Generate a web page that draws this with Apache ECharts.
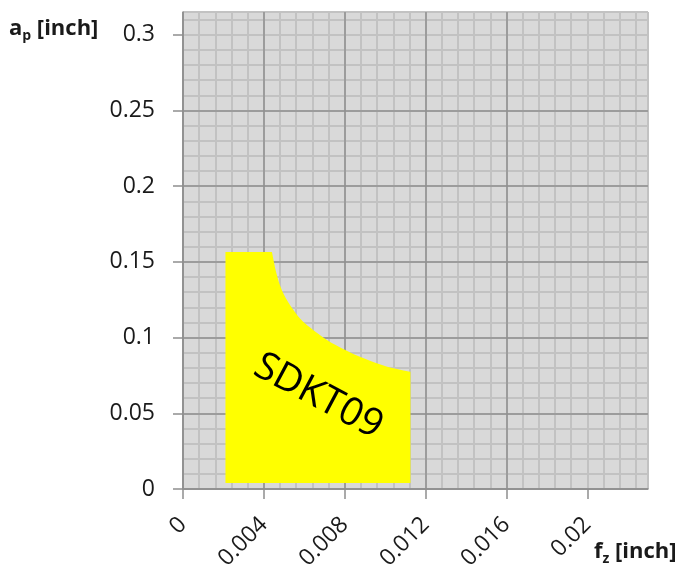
<!DOCTYPE html>
<html>
<head>
<meta charset="utf-8">
<script src="https://cdn.jsdelivr.net/npm/echarts@6/dist/echarts.min.js"></script>
<style>
html,body{margin:0;padding:0;background:#fff;}
#chart{width:684px;height:569px;}
</style>
</head>
<body>
<div id="chart"></div>
<script>
// ---- data ----
const xTicks = [0, 0.004, 0.008, 0.012, 0.016, 0.02];
const yTicks = [0, 0.05, 0.1, 0.15, 0.2, 0.25, 0.3];
const xMax = 0.023;
const yMax = 0.315;
// outline of the SDKT09 application area (fz, ap); points 2..12 form the curved edge
const areaFz = [0.0021, 0.0021, 0.0044, 0.00462, 0.0049, 0.0053, 0.0058, 0.0063, 0.00712, 0.008, 0.00894, 0.0101, 0.01125, 0.01125];
const areaAp = [0.004, 0.1565, 0.1565, 0.1425, 0.131, 0.1214, 0.1125, 0.1065, 0.0984, 0.092, 0.0863, 0.0808, 0.0775, 0.004];
const curveStart = 2, curveEnd = 12;
const areaName = 'SDKT09';
const labelPos = [0.00669, 0.0611];

const FONT = '"Open Sans", "Noto Sans", sans-serif';
const chart = echarts.init(document.getElementById('chart'));

const majorLine = {show: true, showMaxLine: false, lineStyle: {color: '#8f8f8f', width: 1.5}};
const minorLine = {show: true, lineStyle: {color: '#c2c2c2', width: 2}};

function fmt(v) { return String(+v.toFixed(4)); }

function buildPath(pts) {
  const f = p => p[0].toFixed(2) + ' ' + p[1].toFixed(2);
  let d = 'M ' + f(pts[0]);
  for (let i = 1; i <= curveStart; i++) d += ' L ' + f(pts[i]);
  for (let i = curveStart; i < curveEnd; i++) {
    const p0 = pts[Math.max(i - 1, curveStart)];
    const p1 = pts[i];
    const p2 = pts[i + 1];
    const p3 = pts[Math.min(i + 2, curveEnd)];
    const c1 = [p1[0] + (p2[0] - p0[0]) / 6, p1[1] + (p2[1] - p0[1]) / 6];
    const c2 = [p2[0] - (p3[0] - p1[0]) / 6, p2[1] - (p3[1] - p1[1]) / 6];
    d += ' C ' + f(c1) + ' ' + f(c2) + ' ' + f(p2);
  }
  for (let i = curveEnd + 1; i < pts.length; i++) d += ' L ' + f(pts[i]);
  return d + ' Z';
}

const nameRich = {
  b: {fontFamily: FONT, fontWeight: 'bold', fontSize: 22, lineHeight: 28, fill: '#1a1a1a', verticalAlign: 'middle'},
  s: {fontFamily: FONT, fontWeight: 'bold', fontSize: 14, lineHeight: 14, fill: '#1a1a1a', verticalAlign: 'bottom'}
};

const option = {
  animation: false,
  backgroundColor: '#ffffff',
  grid: {left: 183, right: 36, top: 12, bottom: 80, show: true, backgroundColor: '#d9d9d9', borderWidth: 0, containLabel: false, outerBoundsMode: 'none'},
  xAxis: [
    {
      type: 'value', min: 0, max: xMax, interval: 0.004, z: 2,
      axisLine: {show: true, onZero: false, lineStyle: {color: '#8f8f8f', width: 1.5}},
      axisTick: {show: true, length: 10, customValues: xTicks, lineStyle: {color: '#8f8f8f', width: 1.5}},
      axisLabel: {show: true, rotate: 45, margin: 32, customValues: xTicks, color: '#1a1a1a', fontSize: 23, fontFamily: FONT, formatter: fmt},
      splitLine: majorLine
    },
    {
      type: 'value', min: 0, max: xMax, interval: 0.0008, z: 1,
      axisLine: {show: false}, axisTick: {show: false}, axisLabel: {show: false},
      splitLine: minorLine
    }
  ],
  yAxis: [
    {
      type: 'value', min: 0, max: yMax, interval: 0.05, z: 2,
      axisLine: {show: true, onZero: false, lineStyle: {color: '#8f8f8f', width: 1.5}},
      axisTick: {show: true, length: 10, customValues: yTicks, lineStyle: {color: '#8f8f8f', width: 1.5}},
      axisLabel: {show: true, margin: 28, customValues: yTicks, color: '#1a1a1a', fontSize: 23, fontFamily: FONT, formatter: fmt},
      splitLine: majorLine
    },
    {
      type: 'value', min: 0, max: yMax, interval: 0.01, z: 1,
      axisLine: {show: false}, axisTick: {show: false}, axisLabel: {show: false},
      splitLine: minorLine
    }
  ],
  graphic: [
    {type: 'text', left: 9, top: 18, style: {rich: nameRich, text: '{b|a}{s|p}{b| [inch]}'}},
    {type: 'text', left: 594, top: 541, style: {rich: nameRich, text: '{b|f}{s|z}{b| [inch]}'}}
  ],
  series: [
    {
      type: 'custom', name: areaName, xAxisIndex: 0, yAxisIndex: 0, z: 5,
      data: [[labelPos[0], labelPos[1]]],
      renderItem: function (params, api) {
        const pts = areaFz.map((fz, i) => api.coord([fz, areaAp[i]]));
        const c = api.coord(labelPos);
        return {
          type: 'group',
          children: [
            {type: 'path', shape: {pathData: buildPath(pts)}, style: {fill: '#ffff00', stroke: null}},
            {
              type: 'text', x: c[0], y: c[1], rotation: -28 * Math.PI / 180,
              style: {text: areaName, fontFamily: FONT, fontSize: 39, fill: '#000', align: 'center', verticalAlign: 'middle'}
            }
          ]
        };
      }
    }
  ]
};
chart.setOption(option);
</script>
</body>
</html>
